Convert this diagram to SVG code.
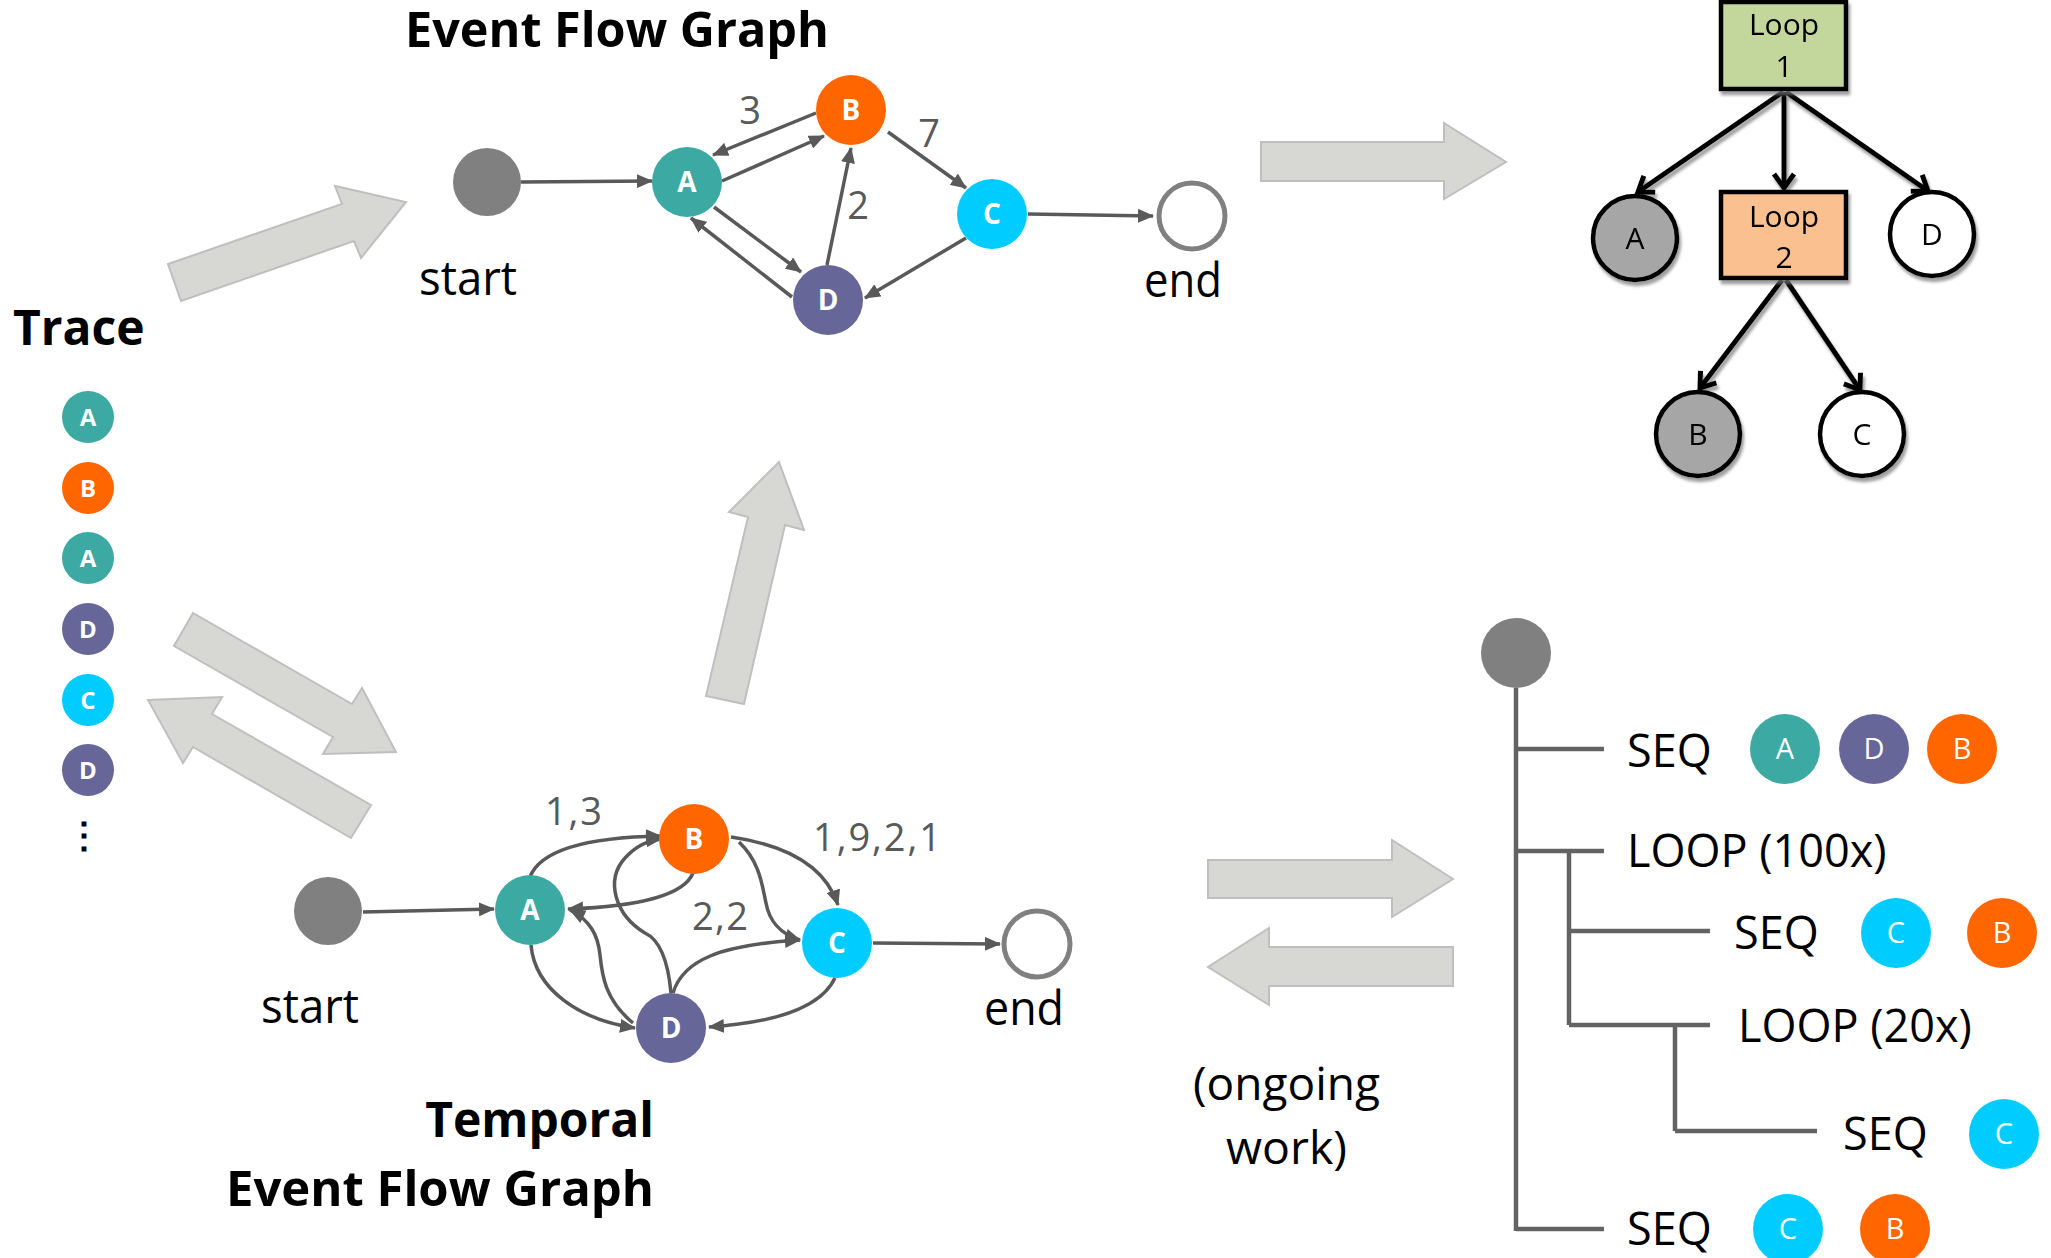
<svg xmlns="http://www.w3.org/2000/svg" width="2051" height="1258" viewBox="0 0 2051 1258">
<style>
text { font-family: "Open Sans", "Liberation Sans", sans-serif; }
.title { font-weight: bold; font-size: 48px; fill: #000; }
.lbl { font-size: 48px; fill: #000; }
.num { font-size: 38px; fill: #595959; }
.nl { font-weight: bold; font-size: 28px; fill: #fff; text-anchor: middle; }
.tl { font-weight: bold; font-size: 24px; fill: #fff; text-anchor: middle; }
.sl { font-size: 29px; fill: #fff; text-anchor: middle; }
.ll { font-size: 30px; fill: #000; text-anchor: middle; }
.seq { font-size: 45px; fill: #000; }
.edge { fill: none; stroke: #595959; stroke-width: 3.5; marker-end: url(#ah); }
.tedge { fill: none; stroke: #000; stroke-width: 5; marker-end: url(#vh); }
.big { fill: #d7d8d3; stroke: #bfbfbf; stroke-width: 2; }
.tree { fill: none; stroke: #636363; stroke-width: 4.5; }
.cA { fill: #3ca9a2; } .cB { fill: #ff6600; } .cC { fill: #00ccff; } .cD { fill: #666699; }
.st { fill: #808080; }
.en { fill: #fff; stroke: #808080; stroke-width: 5; }
</style>
<defs>
<marker id="ah" markerUnits="userSpaceOnUse" markerWidth="16" markerHeight="14" refX="15" refY="7" orient="auto">
<path d="M0,0 L16,7 L0,14 z" fill="#595959"/>
</marker>
<marker id="vh" markerUnits="userSpaceOnUse" markerWidth="24" markerHeight="24" refX="18" refY="12" orient="auto" overflow="visible">
<path d="M4,2 L18,12 L4,22" fill="none" stroke="#000" stroke-width="5"/>
</marker>
<filter id="sh" x="-20%" y="-20%" width="150%" height="150%">
<feDropShadow dx="2" dy="4" stdDeviation="1.5" flood-color="#777" flood-opacity="0.7"/>
</filter>
</defs>

<!-- big gray arrows -->
<g id="bigArrows">
<polygon class="big" points="168,264 342,204 335,186 406,202 361,258 354,241 181,301"/>
<polygon class="big" points="706,696 748,517 729,512 779,462 804,530 785,525 744,704"/>
<polygon class="big" points="193,613 352,704 362,688 396,752 323,754 333,737 174,646"/>
<polygon class="big" points="148,700 222,697 212,714 371,805 351,838 193,747 183,763"/>
<polygon class="big" points="1261,142 1444,142 1444,123 1506,162 1444,199 1444,181 1261,181"/>
<polygon class="big" points="1208,860 1392,860 1392,840 1453,879 1392,917 1392,898 1208,898"/>
<polygon class="big" points="1453,947 1269,947 1269,928 1208,967 1269,1005 1269,986 1453,986"/>
</g>

<!-- Trace -->
<g id="trace">
<text class="title" x="13" y="345">Trace</text>
<circle class="cA" cx="88" cy="417" r="26"/><text class="tl" x="88" y="426">A</text>
<circle class="cB" cx="88" cy="488" r="26"/><text class="tl" x="88" y="497">B</text>
<circle class="cA" cx="88" cy="558" r="26"/><text class="tl" x="88" y="567">A</text>
<circle class="cD" cx="88" cy="629" r="26"/><text class="tl" x="88" y="638">D</text>
<circle class="cC" cx="88" cy="700" r="26"/><text class="tl" x="88" y="709">C</text>
<circle class="cD" cx="88" cy="770" r="26"/><text class="tl" x="88" y="779">D</text>
<text x="84" y="848" font-family="DejaVu Sans, sans-serif" font-weight="bold" font-size="36" text-anchor="middle" fill="#000">⋮</text>
</g>

<!-- Event Flow Graph -->
<g id="efg-title"><text class="title" x="405" y="47" textLength="424" lengthAdjust="spacingAndGlyphs">Event Flow Graph</text></g>
<g id="efg-edges">
<path class="edge" d="M521,182 L652,181"/>
<path class="edge" d="M722,181 L824,136"/>
<path class="edge" d="M816,113 L713,155"/>
<path class="edge" d="M888,132 L966,188"/>
<path class="edge" d="M827,265 L851,148"/>
<path class="edge" d="M714,207 L801,272"/>
<path class="edge" d="M792,297 L691,218"/>
<path class="edge" d="M966,238 L865,298"/>
<path class="edge" d="M1028,214 L1153,216"/>
<text class="num" x="750" y="124" text-anchor="middle">3</text>
<text class="num" x="929" y="147" text-anchor="middle">7</text>
<text class="num" x="858" y="219" text-anchor="middle">2</text>
</g>
<g id="efg-start"><circle class="st" cx="487" cy="182" r="34"/><text class="lbl" x="419" y="295" textLength="98" lengthAdjust="spacingAndGlyphs">start</text></g>
<g id="efg-A"><circle class="cA" cx="687" cy="182" r="35"/><text class="nl" x="687" y="192">A</text></g>
<g id="efg-B"><circle class="cB" cx="851" cy="110" r="35"/><text class="nl" x="851" y="120">B</text></g>
<g id="efg-C"><circle class="cC" cx="992" cy="214" r="35"/><text class="nl" x="992" y="224">C</text></g>
<g id="efg-D"><circle class="cD" cx="828" cy="300" r="35"/><text class="nl" x="828" y="310">D</text></g>
<g id="efg-end"><circle class="en" cx="1192" cy="216" r="33"/><text class="lbl" x="1144" y="297" textLength="78" lengthAdjust="spacingAndGlyphs">end</text></g>

<!-- Temporal Event Flow Graph -->
<g id="tefg-title">
<text class="title" x="654" y="1137" text-anchor="end">Temporal</text>
<text class="title" x="226" y="1206" textLength="428" lengthAdjust="spacingAndGlyphs">Event Flow Graph</text>
</g>
<g id="tefg-edges">
<path class="edge" d="M363,912 L494,909"/>
<path class="edge" d="M530,877 Q545,838 661,836"/>
<path class="edge" d="M671,993 C668,960 660,940 645,933 C615,915 605,880 625,858 C637,845 650,840 661,839"/>
<path class="edge" d="M693,873 Q680,905 568,909"/>
<path class="edge" d="M731,837 Q820,850 838,905"/>
<path class="edge" d="M739,842 C760,862 762,885 766,903 C769,920 780,934 800,940"/>
<path class="edge" d="M673,993 C683,960 720,945 800,940"/>
<path class="edge" d="M531,945 C535,990 580,1020 635,1028"/>
<path class="edge" d="M633,1023 C605,1000 602,975 600,955 C598,935 590,920 570,910"/>
<path class="edge" d="M835,978 Q815,1020 709,1027"/>
<path class="edge" d="M873,943 L1000,944"/>
<text class="num" x="545" y="825" textLength="57">1,3</text>
<text class="num" x="813" y="851" textLength="128">1,9,2,1</text>
<text class="num" x="692" y="930" textLength="56">2,2</text>
</g>
<g id="tefg-start"><circle class="st" cx="328" cy="911" r="34"/><text class="lbl" x="261" y="1023" textLength="98" lengthAdjust="spacingAndGlyphs">start</text></g>
<g id="tefg-A"><circle class="cA" cx="530" cy="910" r="35"/><text class="nl" x="530" y="920">A</text></g>
<g id="tefg-B"><circle class="cB" cx="694" cy="839" r="35"/><text class="nl" x="694" y="849">B</text></g>
<g id="tefg-C"><circle class="cC" cx="837" cy="943" r="35"/><text class="nl" x="837" y="953">C</text></g>
<g id="tefg-D"><circle class="cD" cx="671" cy="1028" r="35"/><text class="nl" x="671" y="1038">D</text></g>
<g id="tefg-end"><circle class="en" cx="1037" cy="944" r="33"/><text class="lbl" x="984" y="1025" textLength="80" lengthAdjust="spacingAndGlyphs">end</text></g>

<!-- Loop tree -->
<g id="loop-edges" filter="url(#sh)">
<path class="tedge" d="M1783,92 L1638,192"/>
<path class="tedge" d="M1784,92 L1784,188"/>
<path class="tedge" d="M1786,92 L1928,191"/>
<path class="tedge" d="M1782,280 L1700,388"/>
<path class="tedge" d="M1786,280 L1860,390"/>
</g>
<g id="loop1" filter="url(#sh)"><rect x="1721" y="2" width="125" height="87" fill="#c3d69b" stroke="#000" stroke-width="4.5"/><text class="ll" x="1784" y="35">Loop</text><text class="ll" x="1784" y="77">1</text></g>
<g id="loop2" filter="url(#sh)"><rect x="1721" y="192" width="125" height="86" fill="#fac090" stroke="#000" stroke-width="4.5"/><text class="ll" x="1784" y="227">Loop</text><text class="ll" x="1784" y="268">2</text></g>
<g id="lt-A" filter="url(#sh)"><circle cx="1635" cy="238" r="42" fill="#a6a6a6" stroke="#000" stroke-width="4.5"/><text class="ll" x="1635" y="249" font-size="28">A</text></g>
<g id="lt-D" filter="url(#sh)"><circle cx="1932" cy="234" r="42" fill="#fff" stroke="#000" stroke-width="4.5"/><text class="ll" x="1932" y="245" font-size="28">D</text></g>
<g id="lt-B" filter="url(#sh)"><circle cx="1698" cy="434" r="42" fill="#a6a6a6" stroke="#000" stroke-width="4.5"/><text class="ll" x="1698" y="445" font-size="28">B</text></g>
<g id="lt-C" filter="url(#sh)"><circle cx="1862" cy="434" r="42" fill="#fff" stroke="#000" stroke-width="4.5"/><text class="ll" x="1862" y="445" font-size="28">C</text></g>

<!-- ongoing work -->
<g id="ongoing">
<text x="1193" y="1100" font-size="46" textLength="187" lengthAdjust="spacingAndGlyphs">(ongoing</text>
<text x="1226" y="1164" font-size="46" textLength="121" lengthAdjust="spacingAndGlyphs">work)</text>
</g>

<!-- Sequence tree -->
<g id="seq-lines">
<path class="tree" d="M1516,688 L1516,1231"/>
<path class="tree" d="M1516,749 L1604,749"/>
<path class="tree" d="M1516,851 L1604,851"/>
<path class="tree" d="M1569,851 L1569,1025"/>
<path class="tree" d="M1569,931 L1710,931"/>
<path class="tree" d="M1569,1025 L1710,1025"/>
<path class="tree" d="M1675,1025 L1675,1131"/>
<path class="tree" d="M1675,1131 L1817,1131"/>
<path class="tree" d="M1516,1229 L1604,1229"/>
</g>
<g id="seq-root"><circle class="st" cx="1516" cy="653" r="35"/></g>
<g id="seq1">
<text class="seq" x="1627" y="767">SEQ</text>
<circle class="cA" cx="1785" cy="749" r="35"/><text class="sl" x="1785" y="759">A</text>
<circle class="cD" cx="1874" cy="749" r="35"/><text class="sl" x="1874" y="759">D</text>
<circle class="cB" cx="1962" cy="749" r="35"/><text class="sl" x="1962" y="759">B</text>
</g>
<g id="loop100"><text class="seq" x="1627" y="867">LOOP (100x)</text></g>
<g id="seq2">
<text class="seq" x="1734" y="949">SEQ</text>
<circle class="cC" cx="1896" cy="933" r="35"/><text class="sl" x="1896" y="943">C</text>
<circle class="cB" cx="2002" cy="933" r="35"/><text class="sl" x="2002" y="943">B</text>
</g>
<g id="loop20"><text class="seq" x="1738" y="1042">LOOP (20x)</text></g>
<g id="seq3">
<text class="seq" x="1843" y="1150">SEQ</text>
<circle class="cC" cx="2004" cy="1134" r="35"/><text class="sl" x="2004" y="1144">C</text>
</g>
<g id="seq4">
<text class="seq" x="1627" y="1245">SEQ</text>
<circle class="cC" cx="1788" cy="1229" r="35"/><text class="sl" x="1788" y="1239">C</text>
<circle class="cB" cx="1895" cy="1229" r="35"/><text class="sl" x="1895" y="1239">B</text>
</g>
</svg>
